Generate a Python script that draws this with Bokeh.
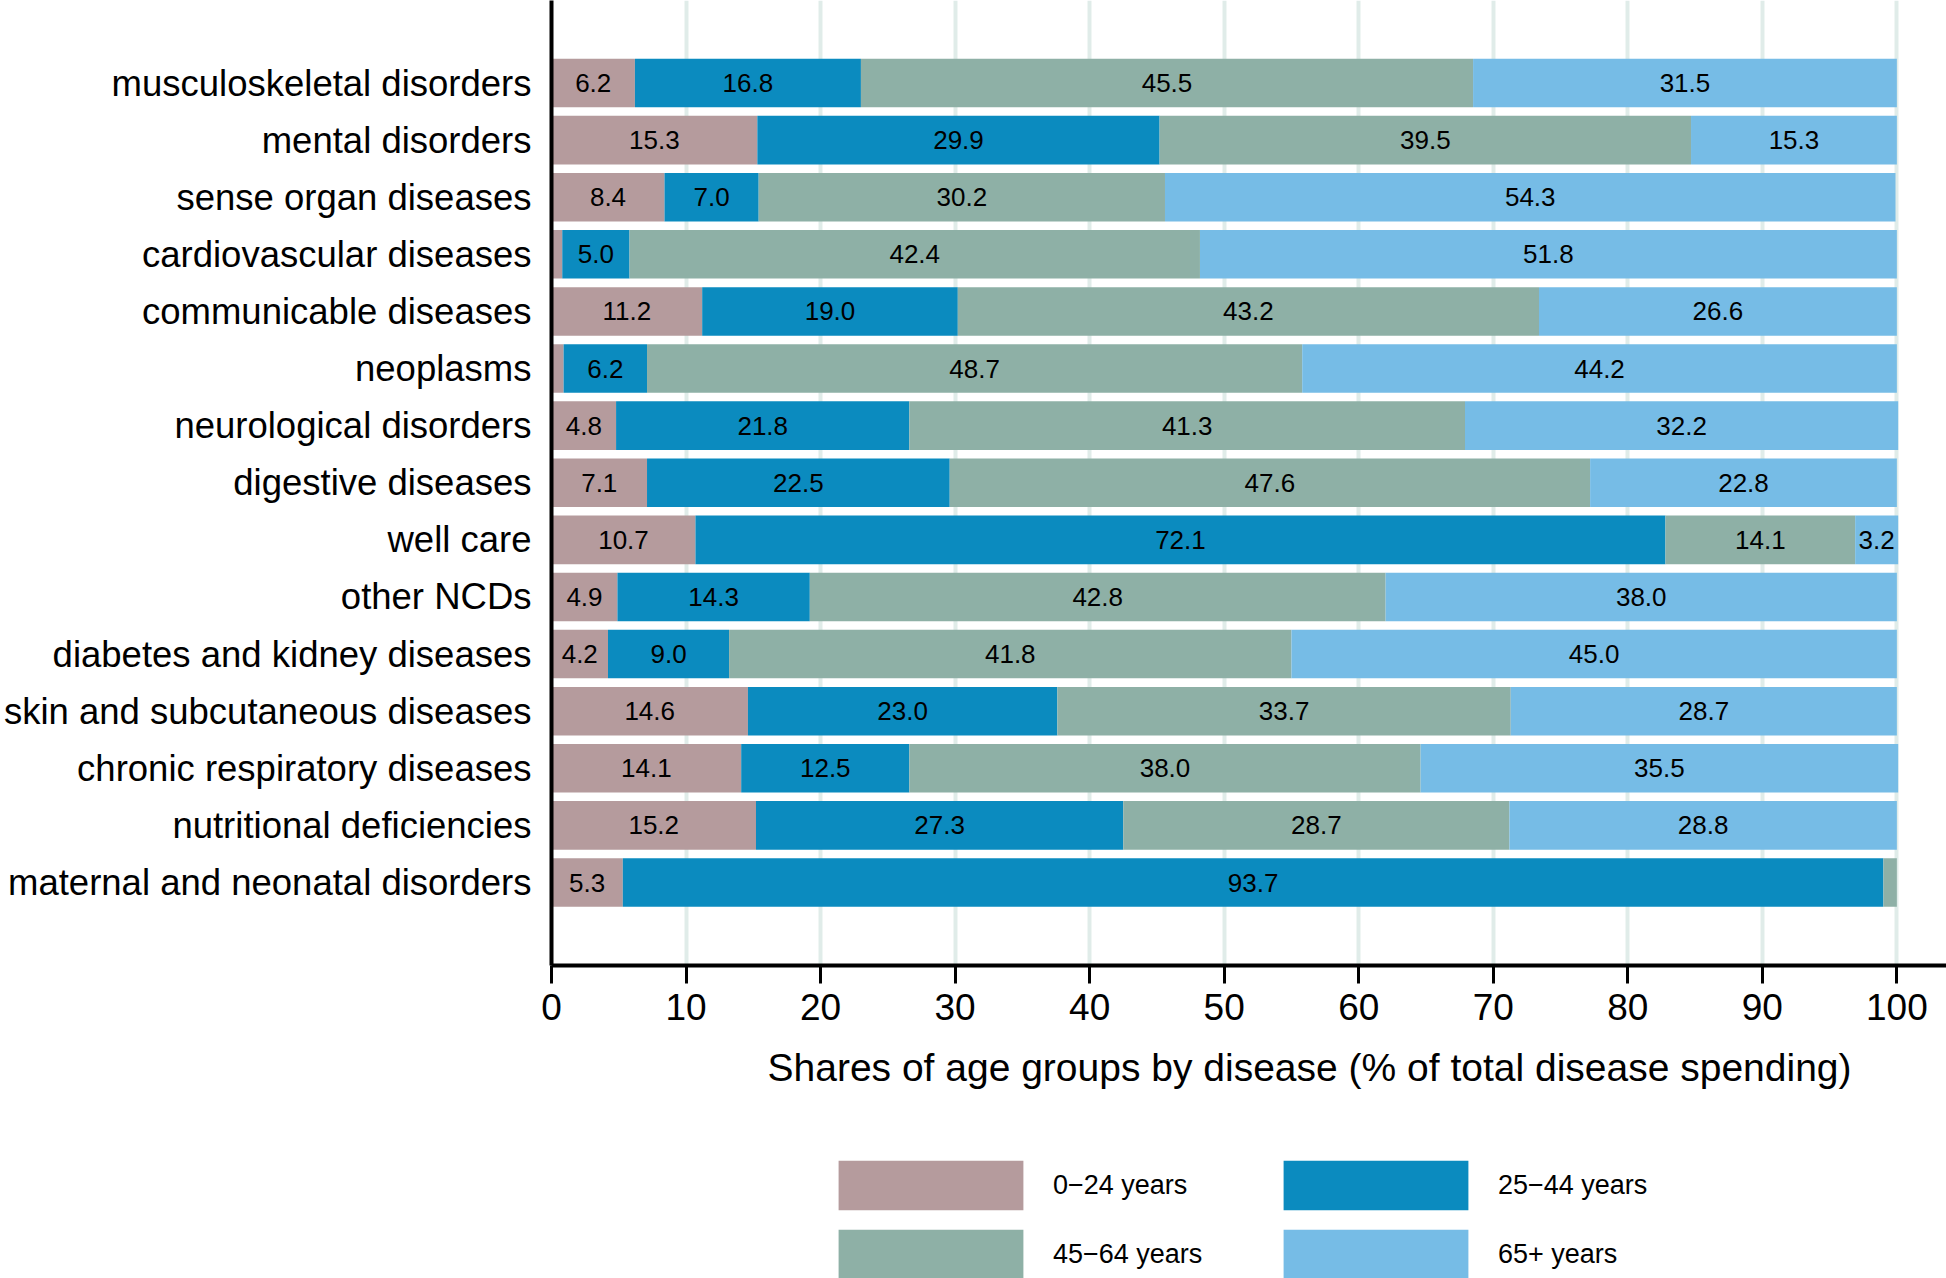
import numpy as np
from bokeh.plotting import figure
from bokeh.layouts import column
from bokeh.models import (Range1d, FixedTicker, Legend, LegendItem, Title,
                          ColumnDataSource)
from bokeh.embed import file_html
from bokeh.resources import INLINE
from bokeh.core.properties import value

categories = [
    "musculoskeletal disorders",
    "mental disorders",
    "sense organ diseases",
    "cardiovascular diseases",
    "communicable diseases",
    "neoplasms",
    "neurological disorders",
    "digestive diseases",
    "well care",
    "other NCDs",
    "diabetes and kidney diseases",
    "skin and subcutaneous diseases",
    "chronic respiratory diseases",
    "nutritional deficiencies",
    "maternal and neonatal disorders",
]
age_groups = ["0\u221224 years", "25\u221244 years", "45\u221264 years", "65+ years"]
share_0_24 = [6.2, 15.3, 8.4, 0.8, 11.2, 0.9, 4.8, 7.1, 10.7, 4.9, 4.2, 14.6, 14.1, 15.2, 5.3]
share_25_44 = [16.8, 29.9, 7.0, 5.0, 19.0, 6.2, 21.8, 22.5, 72.1, 14.3, 9.0, 23.0, 12.5, 27.3, 93.7]
share_45_64 = [45.5, 39.5, 30.2, 42.4, 43.2, 48.7, 41.3, 47.6, 14.1, 42.8, 41.8, 33.7, 38.0, 28.7, 1.0]
share_65_plus = [31.5, 15.3, 54.3, 51.8, 26.6, 44.2, 32.2, 22.8, 3.2, 38.0, 45.0, 28.7, 35.5, 28.8, 0.0]
x_ticks = [0, 10, 20, 30, 40, 50, 60, 70, 80, 90, 100]
colors = ["#b59b9d", "#0b8bbf", "#8eb0a6", "#76bce6"]

FONT = "Liberation Sans"
series = [share_0_24, share_25_44, share_45_64, share_65_plus]
keys = ["g0", "g1", "g2", "g3"]
ypos = list(range(1, len(categories) + 1))

data = {"y": ypos}
for k, s in zip(keys, series):
    data[k] = s
src = ColumnDataSource(data)

MAIN_H = 1130
p = figure(width=1946, height=MAIN_H, output_backend="svg", toolbar_location=None,
           x_range=Range1d(0, 103.69), y_range=Range1d(16.4534, -0.4447),
           min_border_left=551, min_border_right=0, min_border_top=0,
           min_border_bottom=MAIN_H - 965)
p.outline_line_color = None
p.background_fill_color = "white"

p.hbar_stack(keys, y="y", height=0.85, color=colors, line_color=None, source=src)

# value labels
arr = np.array(series)
left = np.vstack([np.zeros(arr.shape[1]), np.cumsum(arr, axis=0)[:-1]])
lx, ly, lt = [], [], []
for gi in range(arr.shape[0]):
    for ci in range(arr.shape[1]):
        v = arr[gi, ci]
        if v >= 2:
            lx.append(left[gi, ci] + v / 2)
            ly.append(ypos[ci])
            lt.append(f"{v:.1f}")
p.text(x="x", y="y", text="t", source=ColumnDataSource(dict(x=lx, y=ly, t=lt)),
       text_align="center", text_baseline="middle", text_color="black",
       text_font=value(FONT), text_font_size=value("26px"))

# axes
p.xaxis.ticker = FixedTicker(ticks=x_ticks)
p.xaxis.axis_line_width = 4
p.xaxis.axis_line_color = "black"
p.xaxis.major_tick_line_width = 3
p.xaxis.major_tick_out = 18
p.xaxis.major_tick_in = 0
p.xaxis.minor_tick_line_color = None
p.xaxis.major_label_text_font = FONT
p.xaxis.major_label_text_font_size = "37px"
p.xaxis.major_label_text_color = "black"
p.xaxis.major_label_standoff = 10

p.yaxis.ticker = FixedTicker(ticks=ypos)
p.yaxis.major_label_overrides = {y: c for y, c in zip(ypos, categories)}
p.yaxis.axis_line_width = 4
p.yaxis.axis_line_color = "black"
p.yaxis.major_tick_line_color = None
p.yaxis.major_tick_out = 0
p.yaxis.major_tick_in = 0
p.yaxis.minor_tick_line_color = None
p.yaxis.major_label_text_font = FONT
p.yaxis.major_label_text_font_size = "36.5px"
p.yaxis.major_label_text_color = "black"
p.yaxis.major_label_standoff = 20

p.xgrid.ticker = FixedTicker(ticks=x_ticks)
p.xgrid.grid_line_color = "#e0ece9"
p.xgrid.grid_line_width = 4
p.ygrid.visible = False

# axis title
p.add_layout(Title(text="Shares of age groups by disease (% of total disease spending)",
                   align="left", offset=216, standoff=42,
                   text_font=FONT, text_font_size="39px", text_font_style="normal",
                   text_color="black"), "below")

# legend panel (separate figure below the chart; its bars lie outside its view)
LEG_H = 1278 - MAIN_H
lf = figure(width=1946, height=LEG_H, output_backend="svg", toolbar_location=None,
            x_range=Range1d(0, 1), y_range=Range1d(100, 101),
            x_axis_location=None, y_axis_location=None,
            min_border_left=0, min_border_right=0, min_border_top=0, min_border_bottom=0)
lf.outline_line_color = None
lf.grid.visible = False
leg_renderers = lf.hbar_stack(keys, y="y", height=0.85, color=colors, line_color=None,
                              source=src)
legend = Legend(items=[LegendItem(label=g, renderers=[r])
                       for g, r in zip(age_groups, leg_renderers)],
                location=(264, -7), orientation="horizontal", ncols=2,
                glyph_width=231, glyph_height=62, label_standoff=7, label_width=200,
                spacing=7, padding=0, margin=0, border_line_color=None,
                background_fill_alpha=0, label_text_font=FONT,
                label_text_font_size="27px", label_text_color="black")
lf.add_layout(legend)

open("out.html", "w").write(file_html(column(p, lf, spacing=0), INLINE))
